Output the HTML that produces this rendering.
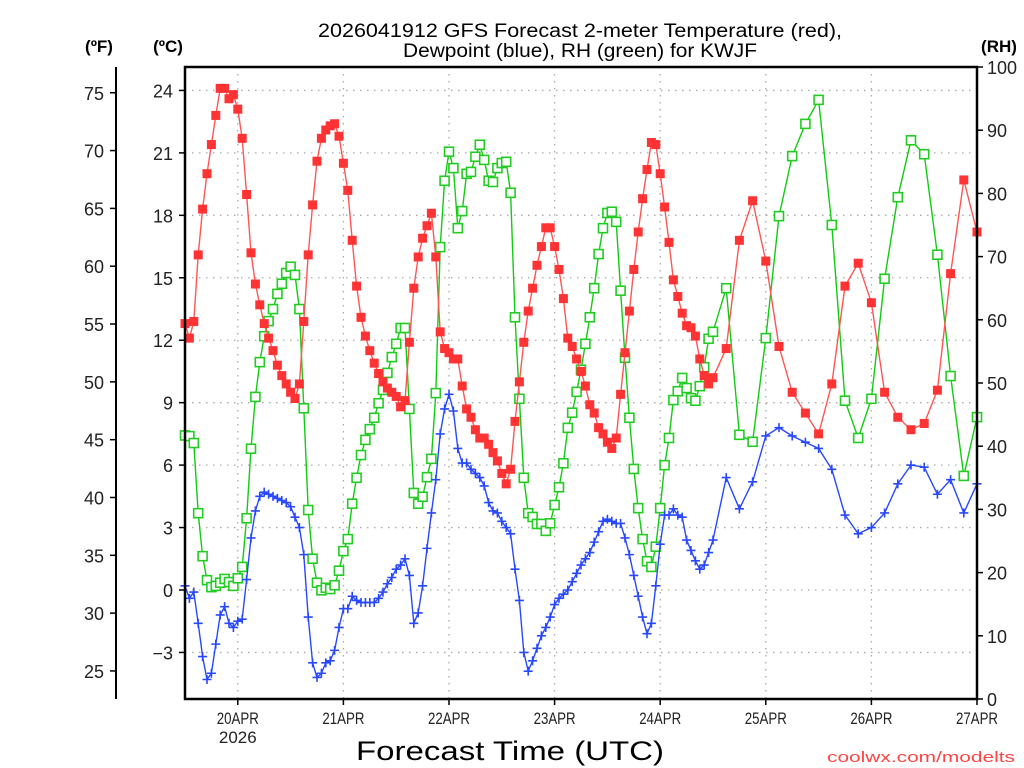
<!DOCTYPE html>
<html>
<head>
<meta charset="utf-8">
<style>
  html,body{margin:0;padding:0;background:#fff;}
  svg{display:block;}
  text{font-family:"Liberation Sans",sans-serif;}
</style>
</head>
<body>
<svg id="chart" width="1024" height="768" viewBox="0 0 1024 768" xmlns="http://www.w3.org/2000/svg">
  <rect x="0" y="0" width="1024" height="768" fill="#fff"/>
  <g id="grid"></g>
  <g id="series"></g>
  <rect x="185" y="67" width="792" height="632" fill="none" stroke="#000" stroke-width="2.5"/>
  <line x1="116" y1="67" x2="116" y2="699" stroke="#000" stroke-width="2"/>
  <g id="axes"></g>
  <text x="580" y="37" font-size="19" text-anchor="middle" textLength="524" lengthAdjust="spacingAndGlyphs">2026041912 GFS Forecast 2-meter Temperature (red),</text>
  <text x="580" y="57" font-size="19" text-anchor="middle" textLength="354" lengthAdjust="spacingAndGlyphs">Dewpoint (blue), RH (green) for KWJF</text>
  <text x="99" y="52" font-size="17" font-weight="bold" text-anchor="middle">(ºF)</text>
  <text x="168" y="52" font-size="17" font-weight="bold" text-anchor="middle">(ºC)</text>
  <text x="999" y="52" font-size="17" font-weight="bold" text-anchor="middle">(RH)</text>
  <text x="510" y="760" font-size="27" text-anchor="middle" textLength="308" lengthAdjust="spacingAndGlyphs">Forecast Time (UTC)</text>
  <text x="1015" y="762" font-size="15" fill="#f44" text-anchor="end" textLength="188" lengthAdjust="spacingAndGlyphs">coolwx.com/modelts</text>
</svg>
<script>
// ---- data ----
const dayLabels = ["20APR","21APR","22APR","23APR","24APR","25APR","26APR","27APR"];
const dayHours = [12,36,60,84,108,132,156,180];
const celsiusTicks = [-3,0,3,6,9,12,15,18,21,24];
const fahrenheitTicks = [25,30,35,40,45,50,55,60,65,70,75];
const rhTicks = [0,10,20,30,40,50,60,70,80,90,100];
const hourlyHours = [0,1,2,3,4,5,6,7,8,9,10,11,12,13,14,15,16,17,18,19,20,21,22,23,24,25,26,27,28,29,30,31,32,33,34,35,36,37,38,39,40,41,42,43,44,45,46,47,48,49,50,51,52,53,54,55,56,57,58,59,60,61,62,63,64,65,66,67,68,69,70,71,72,73,74,75,76,77,78,79,80,81,82,83,84,85,86,87,88,89,90,91,92,93,94,95,96,97,98,99,100,101,102,103,104,105,106,107,108,109,110,111,112,113,114,115,116,117,118,119,120];
const threeHourlyHours = [123,126,129,132,135,138,141,144,147,150,153,156,159,162,165,168,171,174,177,180];
const tempC = [12.8,12.1,12.9,16.1,18.3,20.0,21.4,22.8,24.1,24.1,
 23.6,23.8,23.1,21.7,19.0,16.2,14.7,13.7,12.8,12.1,
 11.5,10.8,10.3,9.9,9.5,9.2,9.9,12.9,16.1,18.5,
 20.6,21.7,22.1,22.3,22.4,21.8,20.5,19.2,16.8,14.6,
 13.1,12.2,11.5,10.9,10.4,10.0,9.7,9.5,9.3,8.8,
 9.1,11.9,14.5,16.0,16.9,17.5,18.1,16.0,12.4,11.6,
 11.4,11.1,11.1,9.8,8.7,8.3,7.7,7.3,7.3,7.0,
 6.6,6.2,5.6,5.1,5.8,8.1,10.0,11.9,13.4,14.5,
 15.6,16.5,17.4,17.4,16.5,15.4,14.0,12.1,11.7,11.1,
 10.5,9.8,8.9,8.5,7.8,7.5,7.1,6.8,7.3,9.4,
 11.4,13.4,15.4,17.2,18.8,20.2,21.5,21.4,20.0,18.4,
 16.7,14.9,14.1,13.3,12.7,12.6,12.2,11.1,10.3,9.9,10.2,
 11.6,16.8,18.7,15.8,11.7,9.5,8.5,7.5,9.9,14.6,15.7,13.8,9.5,8.3,7.7,8.0,9.6,15.2,19.7,17.2];
const dewC = [0.2,-0.4,-0.1,-1.6,-3.2,-4.3,-4.0,-2.6,-1.2,-0.8,
 -1.6,-1.8,-1.5,-1.4,0.5,2.5,3.8,4.5,4.7,4.6,
 4.5,4.4,4.3,4.2,4.0,3.5,3.0,1.7,-1.3,-3.5,
 -4.2,-4.0,-3.5,-3.4,-2.9,-1.8,-0.9,-0.9,-0.3,-0.5,
 -0.6,-0.6,-0.6,-0.6,-0.4,-0.1,0.3,0.6,1.0,1.2,
 1.5,0.7,-1.6,-1.1,0.2,2.0,3.7,5.3,7.5,8.7,
 9.4,8.6,6.8,6.1,6.1,5.8,5.6,5.4,5.0,4.2,
 3.8,3.7,3.3,3.0,2.7,1.0,-0.5,-3.0,-3.9,-3.4,
 -2.8,-2.2,-1.8,-1.3,-0.7,-0.4,-0.2,0.0,0.4,0.8,
 1.2,1.5,1.8,2.3,2.8,3.3,3.4,3.3,3.2,3.2,
 2.5,1.7,0.7,-0.3,-1.3,-2.1,-1.6,0.2,2.2,3.6,
 3.6,3.9,3.6,3.5,2.4,1.9,1.4,1.0,1.2,1.8,2.4,
 5.4,3.9,5.2,7.4,7.8,7.4,7.1,6.8,5.8,3.6,2.7,3.0,3.7,5.1,6.0,5.9,4.6,5.3,3.7,5.1];
const rhPct = [41.7,41.6,40.5,29.4,22.6,18.8,17.7,17.9,18.4,19.0,
 18.5,17.9,19.1,20.9,28.6,39.6,47.8,53.3,57.4,59.8,
 61.7,64.1,65.7,67.4,68.4,67.1,61.7,46.0,29.9,22.2,
 18.4,17.2,17.6,17.4,18.0,20.3,23.4,25.3,30.9,35.0,
 38.6,41.0,42.7,44.5,46.8,48.9,51.6,54.1,56.2,58.7,
 58.7,45.9,32.6,30.9,32.0,35.1,38.0,48.4,71.5,82.0,
 86.6,84.0,74.5,77.2,83.1,83.4,85.8,87.7,85.3,82.0,
 81.8,84.0,84.8,85.0,80.1,60.4,47.5,35.0,29.4,28.8,
 27.7,27.7,26.6,27.8,30.7,33.5,37.3,42.9,45.3,48.6,
 52.1,56.2,60.4,65.0,70.4,74.5,76.9,77.1,75.5,64.6,
 54.0,44.5,36.4,30.2,25.3,21.8,20.9,24.1,30.2,37.0,
 41.3,47.3,48.7,50.8,49.2,47.6,47.2,49.5,52.5,57.0,58.1,
 65.0,41.8,40.7,57.1,76.4,85.9,91.0,94.8,75.0,47.2,41.3,47.5,66.5,79.4,88.4,86.2,70.3,51.1,35.3,44.6];

// ---- axes ----
const NS = "http://www.w3.org/2000/svg";
const X0 = 185, X1 = 977, Y0 = 67, Y1 = 699;
const hours = hourlyHours.concat(threeHourlyHours);
function xHour(h){ return X0 + (h/180)*(X1-X0); }
function yC(c){ return 590 - c*(562/27); }
function yF(f){ return yC((f-32)*5/9); }
function yRH(r){ return Y1 - r*(Y1-Y0)/100; }

function mk(tag, attrs, parent){
  const el = document.createElementNS(NS, tag);
  for (const k in attrs) el.setAttribute(k, attrs[k]);
  parent.appendChild(el);
  return el;
}
const grid = document.getElementById('grid');
const axes = document.getElementById('axes');
const series = document.getElementById('series');

// grid lines
celsiusTicks.forEach(c=>{
  const y = yC(c);
  const l = mk('line',{x1:X0,y1:y,x2:X1,y2:y,stroke:'#aaa','stroke-width':1.3,'stroke-dasharray':'1.5,5.5'},grid);
  
  
});
dayHours.forEach(h=>{
  const x = xHour(h);
  const l = mk('line',{x1:x,y1:Y0,x2:x,y2:Y1,stroke:'#aaa','stroke-width':1.3,'stroke-dasharray':'1.5,5.5'},grid);
  
  
});

// celsius axis
celsiusTicks.forEach(c=>{
  const y = yC(c);
  const t = mk('line',{x1:X0-6,y1:y,x2:X0,y2:y,stroke:'#000','stroke-width':1.5},axes);
  
  
  const tx = mk('text',{x:173,y:y+7,'font-size':18,'text-anchor':'end',fill:'#222'},axes);
  
  
  tx.textContent = c<0 ? '\u2212'+Math.abs(c) : String(c);
});
// fahrenheit axis
fahrenheitTicks.forEach(f=>{
  const y = yF(f);
  const t = mk('line',{x1:110,y1:y,x2:116,y2:y,stroke:'#000','stroke-width':1.5},axes);
  
  
  const tx = mk('text',{x:104,y:y+7,'font-size':18,'text-anchor':'end',fill:'#222'},axes);
  
  
  tx.textContent = String(f);
});
// RH axis
rhTicks.forEach(r=>{
  const y = yRH(r);
  const t = mk('line',{x1:X1,y1:y,x2:X1+6,y2:y,stroke:'#000','stroke-width':1.5},axes);
  
  
  const tx = mk('text',{x:987,y:y+7,'font-size':18,'text-anchor':'start',fill:'#222'},axes);
  
  
  tx.textContent = String(r);
});
// time axis
dayHours.forEach((h,i)=>{
  const x = xHour(h);
  const t = mk('line',{x1:x,y1:Y1,x2:x,y2:Y1+6,stroke:'#000','stroke-width':1.5},axes);
  
  
  const tx = mk('text',{x:x,y:724,'font-size':17,'text-anchor':'middle',fill:'#222',textLength:42,lengthAdjust:'spacingAndGlyphs'},axes);
  
  
  tx.textContent = dayLabels[i];
});
const yr = mk('text',{x:xHour(dayHours[0]),y:743,'font-size':17,'text-anchor':'middle',fill:'#222'},axes);


yr.textContent = '2026';

// ---- series ----
function pathFor(vals, yfn){
  return vals.map((v,i)=>(i?'L':'M')+xHour(hours[i]).toFixed(2)+','+yfn(v).toFixed(2)).join(' ');
}
// RH (green)
const gLine = mk('path',{d:pathFor(rhPct,yRH),fill:'none',stroke:'#11cc11','stroke-width':1.4},series);


rhPct.forEach((v,i)=>{
  const m = mk('rect',{x:xHour(hours[i])-4.5,y:yRH(v)-4.5,width:9,height:9,fill:'#fff',stroke:'#22cc22','stroke-width':1.6},series);
  
  
});
// Temperature (red)
const rLine = mk('path',{d:pathFor(tempC,yC),fill:'none',stroke:'#f55','stroke-width':1.4},series);


tempC.forEach((v,i)=>{
  const m = mk('rect',{x:xHour(hours[i])-4.5,y:yC(v)-4.5,width:9,height:9,fill:'#f33'},series);
  
  
});
// Dewpoint (blue)
const bLine = mk('path',{d:pathFor(dewC,yC),fill:'none',stroke:'#2848ff','stroke-width':1.4},series);


dewC.forEach((v,i)=>{
  const x = xHour(hours[i]), y = yC(v);
  const m = mk('path',{d:`M${x-4.5},${y}H${x+4.5}M${x},${y-4.5}V${y+4.5}`,stroke:'#2848ff','stroke-width':1.6,fill:'none'},series);
  
  
});
</script>
</body>
</html>
